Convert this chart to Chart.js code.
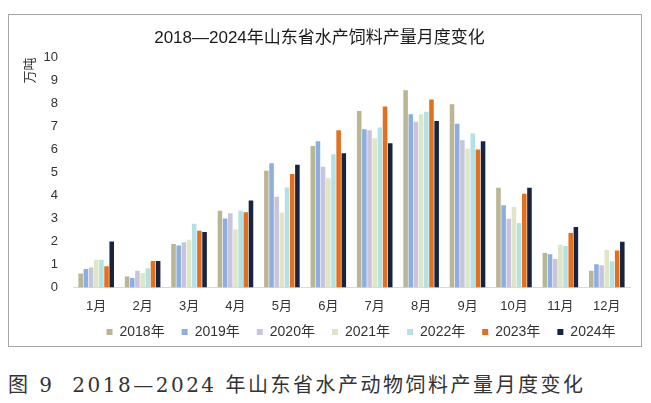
<!DOCTYPE html>
<html>
<head>
<meta charset="utf-8">
<script src="https://cdn.jsdelivr.net/npm/chart.js@4.4.1/dist/chart.umd.min.js"></script>
<style>
html, body { margin: 0; padding: 0; background: #fff; overflow: hidden; }
#box { position: absolute; left: 8px; top: 14px; width: 632px; height: 331px; border: 1px solid #a6a6a6; }
#chart { position: absolute; left: 0; top: 0; }
#caption { position: absolute; left: 8px; top: 372px; line-height: 26px; font-family: "DejaVu Serif", "Noto Sans CJK SC", serif; font-size: 20px; color: #333; letter-spacing: 2.5px; white-space: nowrap; }
</style>
</head>
<body>
<div id="box"><canvas id="chart" width="632" height="345"></canvas></div>
<div id="caption">图 9&nbsp;&nbsp;2018—2024 年山东省水产动物饲料产量月度变化</div>
<script>
// 月份
const months = ['1月', '2月', '3月', '4月', '5月', '6月', '7月', '8月', '9月', '10月', '11月', '12月'];
const years = ['2018年', '2019年', '2020年', '2021年', '2022年', '2023年', '2024年'];
// 产量（万吨）
const y2018 = [0.6, 0.47, 1.89, 3.33, 5.07, 6.15, 7.67, 8.57, 7.96, 4.33, 1.5, 0.72];
const y2019 = [0.8, 0.41, 1.82, 3.0, 5.4, 6.35, 6.88, 7.53, 7.12, 3.57, 1.44, 1.01];
const y2020 = [0.86, 0.72, 1.96, 3.22, 3.94, 5.25, 6.83, 7.2, 6.4, 2.99, 1.24, 0.96];
const y2021 = [1.2, 0.63, 2.07, 2.53, 3.25, 4.75, 6.48, 7.53, 6.03, 3.5, 1.85, 1.63];
const y2022 = [1.2, 0.83, 2.77, 3.33, 4.34, 5.79, 6.95, 7.64, 6.69, 2.8, 1.8, 1.14];
const y2023 = [0.92, 1.15, 2.46, 3.27, 4.93, 6.83, 7.86, 8.17, 6.0, 4.07, 2.36, 1.6];
const y2024 = [2.0, 1.15, 2.41, 3.78, 5.33, 5.83, 6.27, 7.24, 6.35, 4.33, 2.63, 1.98];

const series = [y2018, y2019, y2020, y2021, y2022, y2023, y2024];
const colors = ['#bab594', '#8daee0', '#c9c4dc', '#dde7c6', '#b4e0e8', '#e2711f', '#16243f'];

const fontFamily = '"Liberation Sans", Arial, "Noto Sans CJK SC", sans-serif';

// 图例位置微调，和原图对齐
const legendShift = {
    id: 'legendShift',
    afterLayout(chart) {
        chart.legend.left += 45;
        chart.legend.right += 45;
        chart.legend.top -= 10;
        chart.legend.bottom -= 10;
    }
};

const ctx = document.getElementById('chart').getContext('2d');
new Chart(ctx, {
    type: 'bar',
    data: {
        labels: months,
        datasets: series.map((data, i) => ({
            label: years[i],
            data: data,
            backgroundColor: colors[i],
            borderWidth: 0,
            categoryPercentage: 0.78,
            barPercentage: 0.88
        }))
    },
    options: {
        responsive: false,
        animation: false,
        layout: { padding: { left: 0, right: 11, top: 0, bottom: 1 } },
        scales: {
            x: {
                grid: { display: false, drawTicks: false },
                border: { display: true, color: '#d9d9d9', width: 1 },
                ticks: { color: '#333', padding: 11, font: { family: fontFamily, size: 13 } }
            },
            y: {
                min: 0,
                max: 10,
                afterFit(scale) { scale.width = 64; },
                grid: { display: false, drawTicks: false },
                border: { display: false },
                ticks: { stepSize: 1, color: '#333', padding: 15, font: { family: fontFamily, size: 13 } },
                title: {
                    display: true,
                    text: '万吨',
                    align: 'end',
                    color: '#333',
                    padding: { top: 14, bottom: 0 },
                    font: { family: fontFamily, size: 13 }
                }
            }
        },
        plugins: {
            title: {
                display: true,
                text: '2018—2024年山东省水产饲料产量月度变化',
                color: '#1a1a1a',
                padding: { top: 13, bottom: 9 },
                font: { family: fontFamily, size: 17, weight: 'normal' }
            },
            legend: {
                position: 'bottom',
                labels: {
                    boxWidth: 6,
                    boxHeight: 6,
                    padding: 10,
                    color: '#333',
                    font: { family: fontFamily, size: 14 },
                    generateLabels(chart) {
                        const items = Chart.defaults.plugins.legend.labels.generateLabels(chart);
                        items.forEach(it => { it.text = it.text + '\u2002'; });
                        return items;
                    }
                }
            },
            tooltip: { enabled: false }
        }
    },
    plugins: [legendShift]
});
</script>
</body>
</html>
